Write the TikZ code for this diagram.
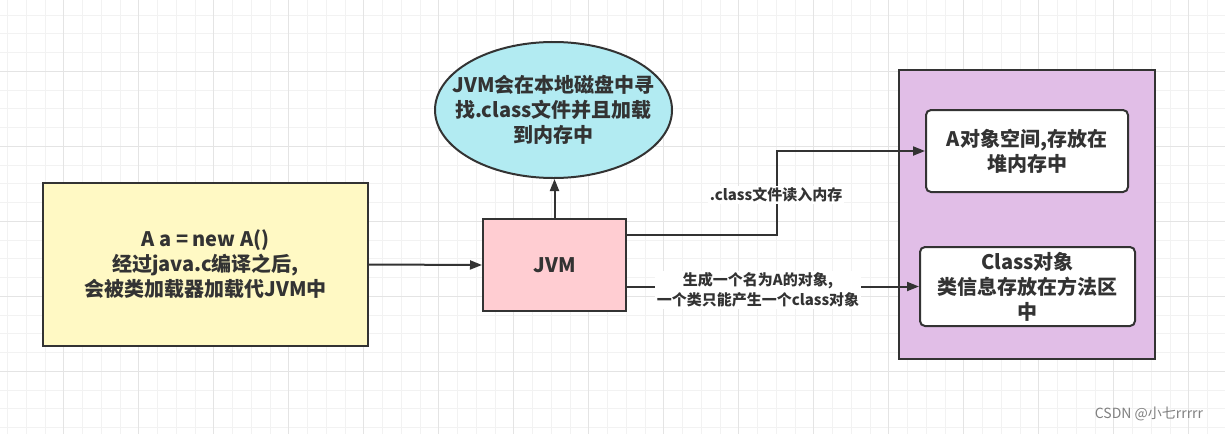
\documentclass[tikz,border=0pt]{standalone}
\usepackage{fontspec}
\setmainfont{Noto Sans CJK SC}
\usetikzlibrary{arrows.meta,shapes.geometric}
\tikzset{>={Triangle[length=12pt,width=9pt]}}
\definecolor{ink}{HTML}{333333}
\definecolor{gridminor}{HTML}{F2F2F2}
\definecolor{gridmajor}{HTML}{E4E4E4}
\definecolor{srcfill}{HTML}{FFF9C4}
\definecolor{jvmfill}{HTML}{FFCDD2}
\definecolor{diskfill}{HTML}{B2EBF2}
\definecolor{memfill}{HTML}{E1BEE7}
\tikzstyle{box}=[draw=ink,line width=2pt,text=ink,align=center,inner sep=0pt,
  font=\fontsize{20}{25}\selectfont\bfseries]
\tikzstyle{slot}=[box,fill=white,rounded corners=5pt]
\tikzstyle{conn}=[->,line width=2pt,ink]
\tikzstyle{lbl}=[fill=white,text=ink,align=center,inner sep=2pt,
  font=\fontsize{15}{20}\selectfont\bfseries]

\begin{document}
\begin{tikzpicture}[x=1pt,y=-1pt]
  \useasboundingbox (0,0) rectangle (1225,434);
  \fill[white] (0,0) rectangle (1225,434);

  % GRID
  \foreach \gx in {7.5,26.25,...,1225}
    \draw[gridminor,line width=1pt] (\gx,0) -- (\gx,434);
  \foreach \gy in {15,33.75,...,434}
    \draw[gridminor,line width=1pt] (0,\gy) -- (1225,\gy);
  \foreach \gx in {63.75,138.75,...,1225}
    \draw[gridmajor,line width=1pt] (\gx,0) -- (\gx,434);
  \foreach \gy in {71.25,146.25,...,434}
    \draw[gridmajor,line width=1pt] (0,\gy) -- (1225,\gy);

  % NODES
  \node[box,fill=srcfill,minimum width=325pt,minimum height=163pt] (src) at (205.5,264.5)
    {A a = new A()\\经过java.c编译之后,\\会被类加载器加载代JVM中};
  \node[box,fill=jvmfill,minimum width=143pt,minimum height=92pt] (jvm) at (554.5,265) {JVM};
  \node[box,ellipse,fill=diskfill,minimum width=237pt,minimum height=136pt] (disk) at (553.5,110) {};
  \node[box,draw=none] (disktext) at (disk.center)
    {JVM会在本地磁盘中寻\\找.class文件并且加载\\到内存中};
  \node[draw=ink,line width=2pt,fill=memfill,minimum width=256pt,minimum height=289pt] (mem) at (1027,214.5) {};
  \node[slot,minimum width=202pt,minimum height=82pt] (heap) at (1027,151)
    {A对象空间,存放在\\堆内存中};
  \node[slot,minimum width=215pt,minimum height=79pt] (meta) at (1027.5,286.5)
    {Class对象\\类信息存放在方法区\\中};

  % CONNECTORS
  \draw[conn] (src.east) -- (jvm.west);
  \draw[conn] (jvm.north) -- (jvm.north |- disk.south);
  \draw[conn] ([yshift=30pt]jvm.east) -- ++(150,0) |- (heap.west);
  \draw[conn] (jvm.east |- meta.west) -- (meta.west);

  % LABELS
  \node[lbl] (readin) at (776,195) {.class文件读入内存};
  \node[lbl] (create) at (758,290) {生成一个名为A的对象,\\一个类只能产生一个class对象};

  \node[text=gray,font=\fontsize{14}{16}\selectfont] (mark) at (1149,414) {CSDN @小七rrrrr};
\end{tikzpicture}
\end{document}
